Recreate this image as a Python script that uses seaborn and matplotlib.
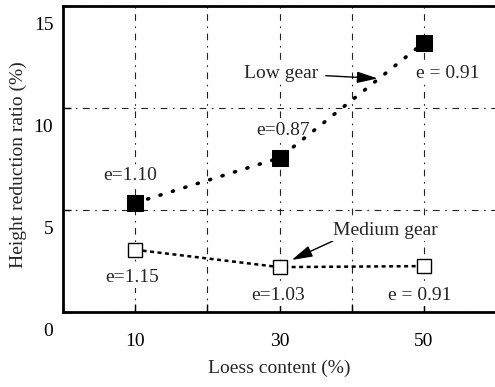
import matplotlib
matplotlib.use("Agg")
import matplotlib.pyplot as plt
import matplotlib.transforms as mtransforms
import seaborn as sns
import pandas as pd

# Loess content (%) and height reduction ratio (%) for each gear
loess = [10, 30, 50]
low_gear = [5.35, 7.55, 13.2]
medium_gear = [3.05, 2.2, 2.25]

# void-ratio labels for each point
low_e = ["e=1.10", "e=0.87", "e = 0.91"]
medium_e = ["e=1.15", "e=1.03", "e = 0.91"]

x_ticks = [10, 20, 30, 40, 50]
x_tick_labels = ["10", "", "30", "", "50"]
y_ticks = [0, 5, 10, 15]
y_tick_labels = ["0", "5", "10", "15"]

sns.set_theme(style="white")
plt.rcParams["font.family"] = ["Liberation Serif", "DejaVu Serif"]
plt.rcParams["font.size"] = 14

df = pd.DataFrame({"loess": loess, "low": low_gear, "medium": medium_gear})

fig = plt.figure(figsize=(4.95, 3.87), dpi=100)
ax = fig.add_axes([63 / 495, 75 / 387, 433 / 495, 306 / 387])

sns.lineplot(data=df, x="loess", y="low", ax=ax, color="black",
             linewidth=2.6, linestyle=(0, (0.3, 3.3)), dash_capstyle="round",
             marker="s", markersize=11.5, markerfacecolor="black",
             markeredgecolor="black", zorder=4)
sns.lineplot(data=df, x="loess", y="medium", ax=ax, color="black",
             linewidth=1.8, linestyle=(0, (1.6, 1.4)),
             marker="s", markersize=10.5, markerfacecolor="white",
             markeredgecolor="black", markeredgewidth=1.0, zorder=4)

ax.set_xlim(0, 60)
ax.set_ylim(0, 15)
ax.set_xticks(x_ticks)
ax.set_xticklabels(x_tick_labels)
ax.set_yticks(y_ticks)
ax.set_yticklabels(y_tick_labels)

ax.grid(True, color="#222222", linewidth=0.8, linestyle=(0, (6, 5, 1.5, 5)))
ax.tick_params(axis="both", direction="in", length=6, width=1.0,
               colors="black", labelsize=14)
ax.tick_params(axis="x", pad=15, bottom=True)
ax.tick_params(axis="y", pad=7, left=True)

# y tick labels sit a little below their gridlines
offset = mtransforms.ScaledTranslation(0, -0.17, fig.dpi_scale_trans)
for lab in ax.get_yticklabels():
    lab.set_transform(lab.get_transform() + offset)

for side in ["left", "bottom", "top"]:
    ax.spines[side].set_linewidth(2.0)
    ax.spines[side].set_color("black")
ax.spines["right"].set_visible(False)

ax.set_xlabel("Loess content (%)", fontsize=14, va="top")
ax.set_ylabel("Height reduction ratio (%)", fontsize=14)
ax.xaxis.set_label_coords(0.5, -0.155)
ax.yaxis.set_label_coords(-0.083, 0.48)

# point annotations, on a white patch so gridlines break around them
box = dict(facecolor="white", edgecolor="none", pad=1.5)
low_pos = [(9.3, 6.7), (30.5, 8.9), (53.3, 11.7)]
med_pos = [(9.6, 1.7), (29.8, 0.8), (49.4, 0.8)]
for (tx, ty), s in zip(low_pos, low_e):
    ax.text(tx, ty, s, ha="center", va="center", fontsize=14, bbox=box, zorder=3)
for (tx, ty), s in zip(med_pos, medium_e):
    ax.text(tx, ty, s, ha="center", va="center", fontsize=14, bbox=box, zorder=3)

ax.annotate("Low gear", xy=(43.6, 11.45), xytext=(30.2, 11.7),
            ha="center", va="center", fontsize=14, bbox=box, zorder=3,
            arrowprops=dict(arrowstyle="-|>,head_length=0.9,head_width=0.25",
                            color="black", lw=1.0, shrinkA=4, shrinkB=0))
ax.annotate("Medium gear", xy=(31.7, 2.55), xytext=(44.7, 4.0),
            ha="center", va="center", fontsize=14, bbox=box, zorder=3,
            arrowprops=dict(arrowstyle="-|>,head_length=0.9,head_width=0.25",
                            color="black", lw=1.0, shrinkA=0, shrinkB=0,
                            relpos=(0.04, 0.0)))

fig.savefig("out.png", dpi=100, facecolor="white")
